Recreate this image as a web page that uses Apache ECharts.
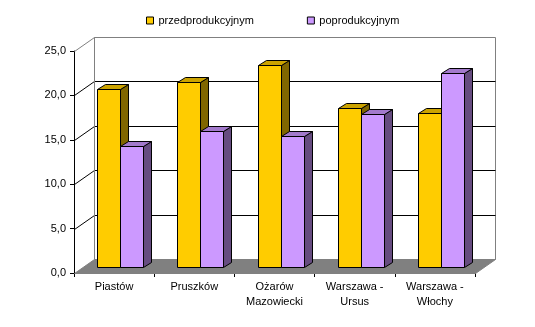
<!DOCTYPE html>
<html>
<head>
<meta charset="utf-8">
<script src="https://cdn.jsdelivr.net/npm/echarts@6/dist/echarts.min.js"></script>
<style>
html,body{margin:0;padding:0;background:#fff;}
#c{width:535px;height:327px;}
</style>
</head>
<body>
<div id="c"></div>
<script>
const categories = ['Piastów', 'Pruszków', 'Ożarów\nMazowiecki', 'Warszawa -\nUrsus', 'Warszawa -\nWłochy'];
const seriesNames = ['przedprodukcyjnym', 'poprodukcyjnym'];
const przedprodukcyjnym = [20.1, 20.8, 22.8, 17.9, 17.3];
const poprodukcyjnym = [13.6, 15.3, 14.7, 17.2, 21.9];
const yMin = 0, yMax = 25, yInterval = 5;

const FONT = '"Liberation Sans", Arial, sans-serif';
const palettes = [
  { front: '#FFCC00', top: '#CCA300', side: '#806600' },
  { front: '#CC99FF', top: '#A37ACC', side: '#664C80' }
];
const WALL_DX = 20, WALL_DY = -14;
const BAR_FX = 6, BAR_FY = -6, BAR_DX = 8, BAR_DY = -5;

function wallRender(params, api) {
  const n = categories.length;
  const bw = api.size([1, 0])[0];
  const xl = Math.round(api.coord([0, 0])[0] - bw / 2) + 0.5;
  const xr = Math.round(api.coord([n - 1, 0])[0] + bw / 2) + 0.5;
  const y = v => Math.round(api.coord([0, v])[1]) + 0.5;
  const ch = [];
  const y0 = y(yMin), yT = y(yMax);
  ch.push({ type: 'polygon', shape: { points: [[xl + WALL_DX, yT + WALL_DY], [xr + WALL_DX, yT + WALL_DY], [xr + WALL_DX, y0 + WALL_DY], [xl + WALL_DX, y0 + WALL_DY]] }, style: { fill: '#fff', stroke: '#808080', lineWidth: 1 } });
  ch.push({ type: 'polygon', shape: { points: [[xl, y0], [xl + WALL_DX, y0 + WALL_DY], [xr + WALL_DX, y0 + WALL_DY], [xr, y0]] }, style: { fill: '#808080', stroke: '#808080', lineWidth: 1 } });
  for (let v = yMin + yInterval; v <= yMax; v += yInterval) {
    const yy = y(v);
    const col = v === yMax ? '#808080' : '#000';
    if (v < yMax) {
      ch.push({ type: 'line', shape: { x1: xl + WALL_DX, y1: yy + WALL_DY, x2: xr + WALL_DX, y2: yy + WALL_DY }, style: { stroke: '#000', lineWidth: 1 } });
    }
    ch.push({ type: 'line', shape: { x1: xl, y1: yy, x2: xl + WALL_DX, y2: yy + WALL_DY }, style: { stroke: col, lineWidth: 1 } });
  }
  ch.push({ type: 'line', shape: { x1: xl + WALL_DX, y1: yT + WALL_DY, x2: xl + WALL_DX, y2: y0 + WALL_DY }, style: { stroke: '#808080', lineWidth: 1 } });
  return { type: 'group', children: ch };
}

function barRender(k) {
  const pal = palettes[k];
  return function (params, api) {
    const i = api.value(0), v = api.value(1);
    const c = api.coord([i, 0]);
    const t = api.coord([i, v]);
    const bw = api.size([1, 0])[0];
    const w = Math.round(bw * 0.29);
    const x0 = Math.round(c[0] + BAR_FX - w + k * w) + 0.5;
    const x1 = x0 + w;
    const yb = Math.round(c[1] + BAR_FY) + 0.5;
    const yt = Math.round(t[1] + BAR_FY) + 0.5;
    const st = f => ({ fill: f, stroke: '#000', lineWidth: 1, lineJoin: 'miter' });
    return {
      type: 'group',
      children: [
        { type: 'polygon', shape: { points: [[x1, yt], [x1 + BAR_DX, yt + BAR_DY], [x1 + BAR_DX, yb + BAR_DY], [x1, yb]] }, style: st(pal.side) },
        { type: 'polygon', shape: { points: [[x0, yt], [x0 + BAR_DX, yt + BAR_DY], [x1 + BAR_DX, yt + BAR_DY], [x1, yt]] }, style: st(pal.top) },
        { type: 'polygon', shape: { points: [[x0, yt], [x1, yt], [x1, yb], [x0, yb]] }, style: st(pal.front) }
      ]
    };
  };
}

const chart = echarts.init(document.getElementById('c'), null, { renderer: 'canvas' });
chart.setOption({
  animation: false,
  backgroundColor: '#fff',
  textStyle: { fontFamily: FONT },
  legend: {
    left: 141, top: 10,
    itemWidth: 7, itemHeight: 7, itemGap: 53,
    icon: 'rect',
    textStyle: { fontFamily: FONT, fontSize: 11, color: '#000' },
    data: seriesNames.map((n, k) => ({ name: n, itemStyle: { color: palettes[k].front, borderColor: '#000', borderWidth: 1 } }))
  },
  grid: { left: 74, right: 60, top: 51, bottom: 54 },
  xAxis: {
    type: 'category',
    data: categories,
    boundaryGap: true,
    axisLine: { lineStyle: { color: '#000', width: 1 } },
    axisTick: { show: true, length: 4, lineStyle: { color: '#000' } },
    axisLabel: { color: '#000', fontFamily: FONT, fontSize: 11, lineHeight: 15, margin: 6, interval: 0 },
    splitLine: { show: false }
  },
  yAxis: {
    type: 'value',
    min: yMin, max: yMax, interval: yInterval,
    axisLine: { show: true, lineStyle: { color: '#000', width: 1 } },
    axisTick: { show: true, length: 4, lineStyle: { color: '#000' } },
    axisLabel: { color: '#000', fontFamily: FONT, fontSize: 11, margin: 8, formatter: v => v.toFixed(1).replace('.', ',') },
    splitLine: { show: false }
  },
  series: [
    { type: 'custom', name: '_walls', silent: true, renderItem: wallRender, data: [[0, 0]], z: 1 },
    { type: 'custom', name: seriesNames[0], renderItem: barRender(0), itemStyle: { color: palettes[0].front }, data: przedprodukcyjnym.map((v, i) => [i, v]), z: 2 },
    { type: 'custom', name: seriesNames[1], renderItem: barRender(1), itemStyle: { color: palettes[1].front }, data: poprodukcyjnym.map((v, i) => [i, v]), z: 3 }
  ]
});
</script>
</body>
</html>
